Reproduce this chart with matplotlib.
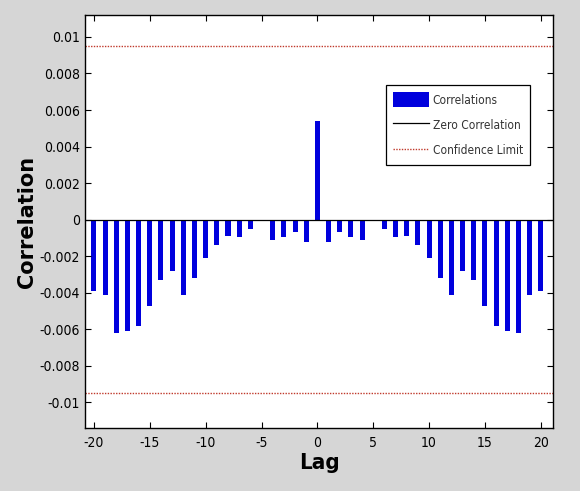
import matplotlib
matplotlib.use("Agg")
import matplotlib.pyplot as plt
from matplotlib.ticker import FixedLocator, FixedFormatter

plt.rcParams['font.family'] = ['DejaVu Sans']
plt.rcParams['font.stretch'] = 'condensed'
plt.rcParams['axes.unicode_minus'] = False

lags = list(range(-20, 21))
corr_neg = [-0.0039, -0.0041, -0.0062, -0.0061, -0.0058, -0.0047, -0.0033, -0.0028,
            -0.0041, -0.0032, -0.0021, -0.00137, -0.00087, -0.00096, -0.0005, 0.0,
            -0.0011, -0.00096, -0.0007, -0.0012]
corr_zero = [0.0054]
correlations = corr_neg + corr_zero + corr_neg[::-1]
conf_limit = 0.0095

yticks = [-0.01, -0.008, -0.006, -0.004, -0.002, 0, 0.002, 0.004, 0.006, 0.008, 0.01]
ytick_labels = ['-0.01', '-0.008', '-0.006', '-0.004', '-0.002', '0',
                '0.002', '0.004', '0.006', '0.008', '0.01']
xticks = [-20, -15, -10, -5, 0, 5, 10, 15, 20]

fig = plt.figure(figsize=(5.8, 4.91), dpi=100, facecolor='#d6d6d6')
ax = fig.add_axes([0.1466, 0.1283, 0.8069, 0.8411])
ax.set_facecolor('white')

bars = ax.bar(lags, correlations, width=0.45, color='#0000dd', label='Correlations')
zero = ax.axhline(0, color='black', lw=0.9, label='Zero Correlation')
conf = ax.axhline(conf_limit, color='#c0392b', lw=1.0, ls=(0, (1, 1)), label='Confidence Limit')
ax.axhline(-conf_limit, color='#c0392b', lw=1.0, ls=(0, (1, 1)))

ax.set_xlim(-20.8, 21.1)
ax.set_ylim(-0.0114, 0.0112)
ax.yaxis.set_major_locator(FixedLocator(yticks))
ax.yaxis.set_major_formatter(FixedFormatter(ytick_labels))
ax.set_xticks(xticks)
ax.tick_params(direction='in', top=True, right=True, length=4, width=0.8,
               labelsize=10, colors='black')
ax.tick_params(axis='x', pad=6)
for s in ax.spines.values():
    s.set_linewidth(1.0)

ax.set_xlabel('Lag', fontsize=16, fontweight='bold', labelpad=2)
ax.set_ylabel('Correlation', fontsize=15, fontweight='bold', labelpad=2,
              fontstretch='normal')

leg = ax.legend([bars, zero, conf], ['Correlations', 'Zero Correlation', 'Confidence Limit'],
                loc='upper left', bbox_to_anchor=(0.643, 0.83), fontsize=8.6,
                frameon=True, fancybox=False, edgecolor='black', framealpha=1,
                handlelength=3.0, handleheight=1.5, borderpad=0.6, labelspacing=0.9,
                handletextpad=0.3, borderaxespad=0)
leg.get_frame().set_linewidth(0.9)
for t in leg.get_texts():
    t.set_color('#333333')

fig.savefig('out.png', dpi=100, facecolor=fig.get_facecolor())
